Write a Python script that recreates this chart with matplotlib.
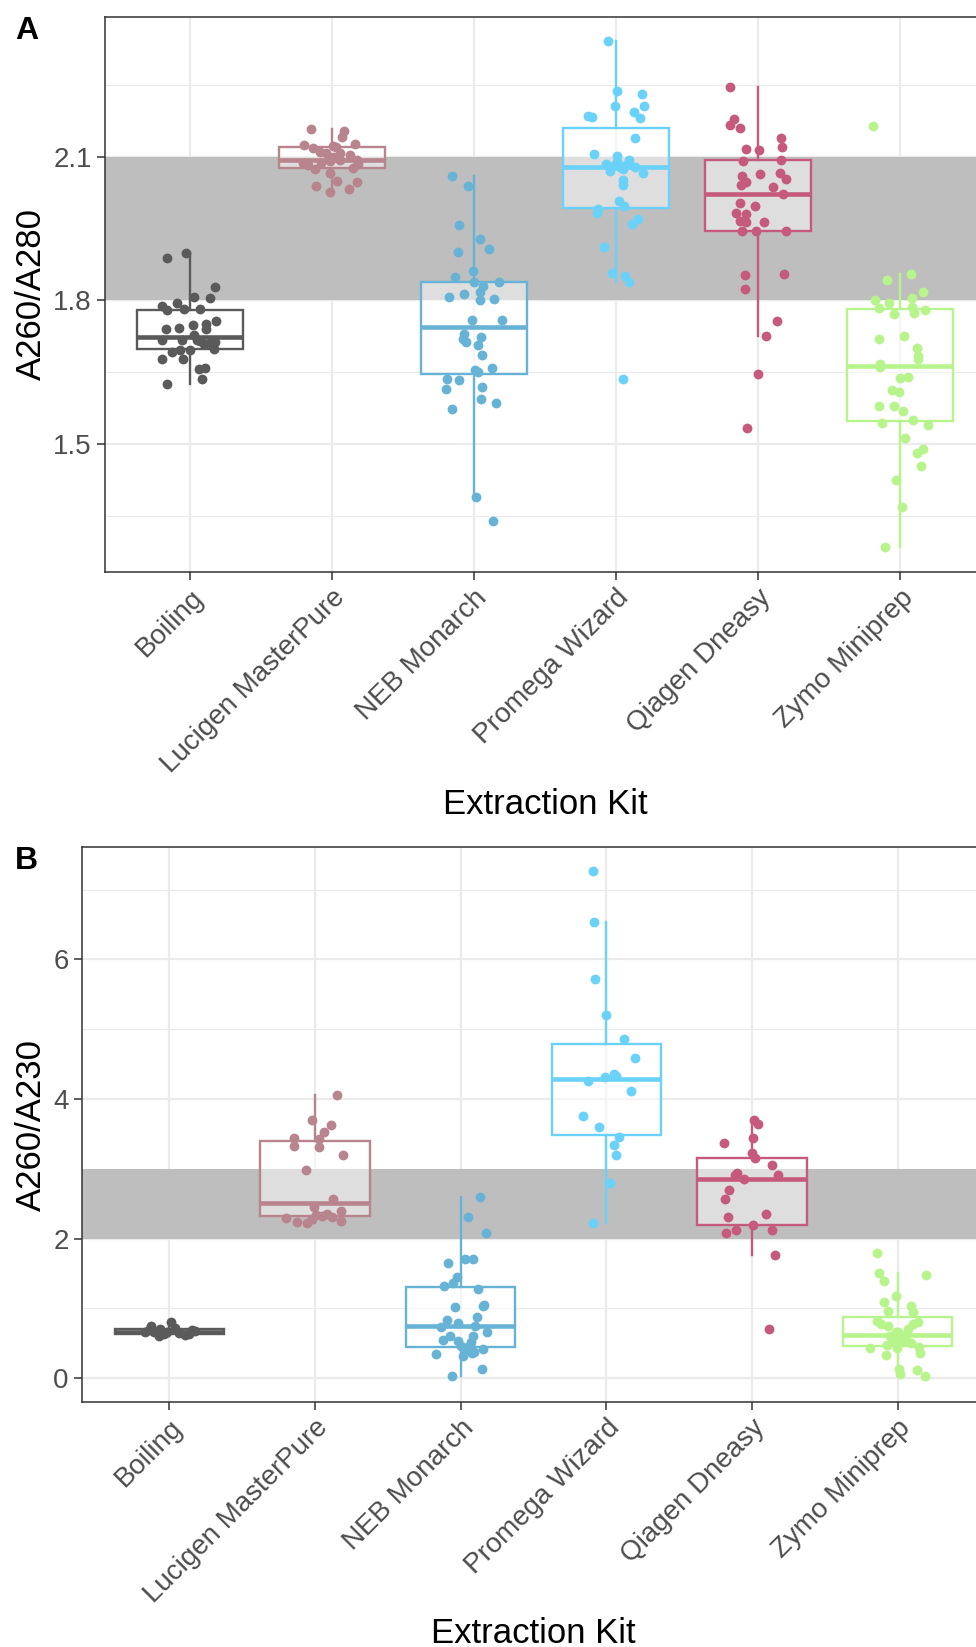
import matplotlib
matplotlib.use("Agg")
import matplotlib.pyplot as plt
import numpy as np

plt.rcParams['font.family'] = ['Liberation Sans', 'DejaVu Sans']

kits = ["Boiling", "Lucigen MasterPure", "NEB Monarch", "Promega Wizard", "Qiagen Dneasy", "Zymo Miniprep"]
kit_colors = ["#5a5a5a", "#b8848d", "#67b3d5", "#6ad2f8", "#c65a7c", "#b8f48c"]

# ---------------- Panel A: A260/A280 ----------------
a280_boiling = [1.888, 1.899, 1.827, 1.806, 1.808, 1.794, 1.789, 1.779, 1.782, 1.781, 1.740, 1.742, 1.749, 1.751,
                1.740, 1.757, 1.728, 1.717, 1.717, 1.715, 1.710, 1.713, 1.692, 1.697, 1.697, 1.699, 1.678, 1.678,
                1.656, 1.658, 1.636, 1.626, 1.708, 1.718]
a280_boiling_jit = [-0.165, -0.028, 0.176, 0.141, 0.024, -0.094, -0.200, -0.165, -0.040, 0.071, -0.169, -0.080, 0.019,
                    0.113, 0.113, 0.181, 0.024, -0.197, -0.059, 0.071, 0.141, 0.176, -0.129, -0.071, 0.000, 0.165,
                    -0.197, -0.047, 0.059, 0.103, 0.082, -0.160, 0.094, 0.047]
a280_lucigen = [2.158, 2.153, 2.142, 2.126, 2.124, 2.119, 2.122, 2.110, 2.107, 2.107, 2.103, 2.093, 2.083, 2.074,
                2.086, 2.090, 2.093, 2.076, 2.085, 2.065, 2.049, 2.047, 2.038, 2.027, 2.032, 2.086, 2.100, 2.120]
a280_lucigen_jit = [-0.150, 0.085, 0.073, 0.160, -0.195, -0.134, 0.007, -0.087, -0.040, 0.059, 0.125, 0.172, -0.169,
                    -0.122, -0.075, -0.016, 0.054, 0.148, 0.183, -0.012, 0.038, 0.172, -0.115, -0.012, 0.120, -0.205,
                    0.007, 0.030]
a280_neb = [2.060, 2.038, 1.958, 1.929, 1.908, 1.900, 1.862, 1.848, 1.838, 1.831, 1.838, 1.807, 1.813, 1.817, 1.801,
            1.803, 1.760, 1.760, 1.729, 1.724, 1.719, 1.713, 1.706, 1.685, 1.654, 1.651, 1.659, 1.635, 1.633, 1.616,
            1.619, 1.594, 1.585, 1.574, 1.390, 1.340]
a280_neb_jit = [-0.157, -0.040, -0.106, 0.042, 0.108, -0.115, -0.005, -0.134, 0.000, 0.061, 0.179, -0.174, -0.071,
                0.042, 0.042, 0.141, -0.012, 0.195, -0.071, 0.049, -0.080, -0.056, 0.031, 0.054, 0.007, 0.031, 0.125,
                -0.188, -0.103, -0.200, 0.059, 0.049, 0.155, -0.153, 0.012, 0.132]
a280_promega = [2.341, 2.237, 2.231, 2.206, 2.205, 2.194, 2.180, 2.185, 2.183, 2.140, 2.106, 2.101, 2.093, 2.085,
                2.081, 2.079, 2.074, 2.079, 2.065, 2.051, 2.041, 2.008, 1.996, 1.991, 1.982, 1.970, 1.960, 1.911,
                1.857, 1.851, 1.838, 1.635, 2.088, 2.070, 2.083]
a280_promega_jit = [-0.054, 0.009, 0.186, -0.007, 0.195, 0.125, 0.169, -0.200, -0.172, 0.136, -0.155, 0.005, 0.092,
                    -0.071, -0.019, 0.028, 0.052, 0.136, 0.188, 0.052, 0.047, 0.024, 0.056, -0.125, -0.134, 0.157,
                    0.113, -0.082, -0.031, 0.063, 0.089, 0.052, 0.010, -0.040, 0.070]
a280_qiagen = [2.246, 2.178, 2.167, 2.160, 2.138, 2.121, 2.117, 2.113, 2.092, 2.093, 2.060, 2.064, 2.065, 2.053,
               2.048, 2.041, 2.036, 2.022, 2.004, 1.998, 1.982, 1.981, 1.965, 1.963, 1.963, 1.945, 1.944, 1.944,
               1.852, 1.856, 1.824, 1.756, 1.725, 1.647, 1.533]
a280_qiagen_jit = [-0.200, -0.169, -0.200, -0.127, 0.160, 0.167, -0.082, 0.007, -0.106, 0.165, -0.110, 0.016, 0.153,
                   0.195, -0.082, -0.118, 0.106, 0.176, -0.129, -0.021, -0.157, -0.082, -0.129, -0.087, 0.042, -0.113,
                   -0.012, 0.195, -0.094, 0.181, -0.089, 0.136, 0.059, -0.002, -0.075]
a280_zymo = [2.164, 1.843, 1.855, 1.818, 1.801, 1.794, 1.806, 1.784, 1.771, 1.786, 1.773, 1.780, 1.719, 1.726, 1.701,
             1.684, 1.677, 1.667, 1.660, 1.637, 1.640, 1.613, 1.609, 1.580, 1.580, 1.569, 1.544, 1.550, 1.540, 1.513,
             1.481, 1.489, 1.455, 1.425, 1.369, 1.286]
a280_zymo_jit = [-0.188, -0.087, 0.080, 0.160, -0.174, -0.078, 0.087, -0.150, -0.042, 0.089, 0.103, 0.179, -0.146,
                 0.031, 0.122, 0.125, 0.129, -0.141, -0.141, 0.002, 0.059, -0.054, -0.007, -0.146, -0.038, 0.024,
                 -0.127, 0.096, 0.200, 0.038, 0.118, 0.160, 0.146, -0.028, 0.016, -0.103]

# ---------------- Panel B: A260/A230 ----------------
a230_boiling = [0.754, 0.811, 0.706, 0.654, 0.597, 0.668, 0.644, 0.620, 0.692, 0.682, 0.635, 0.668, 0.635, 0.716, 0.692]
a230_boiling_jit = [-0.124, 0.014, -0.062, -0.165, -0.073, -0.016, 0.064, 0.110, 0.156, 0.179, 0.133, -0.108, -0.039,
                    0.041, -0.142]
a230_lucigen = [4.056, 3.696, 3.622, 3.524, 3.425, 3.435, 3.326, 3.317, 3.203, 2.976, 2.563, 2.449, 2.396, 2.348,
                2.315, 2.339, 2.301, 2.243, 2.220, 2.258, 2.329, 2.277]
a230_lucigen_jit = [0.151, -0.023, 0.110, 0.060, 0.027, -0.142, -0.142, 0.027, 0.190, -0.060, 0.126, -0.005, 0.176,
                    0.080, 0.114, 0.005, -0.197, -0.126, -0.055, 0.176, 0.046, -0.023]
a230_neb = [2.600, 2.315, 2.076, 1.656, 1.709, 1.709, 1.456, 1.361, 1.323, 1.280, 1.016, 1.050, 1.030, 0.835, 0.883,
            0.797, 0.730, 0.754, 0.668, 0.606, 0.549, 0.539, 0.511, 0.597, 0.463, 0.415, 0.358, 0.320, 0.415, 0.344,
            0.134, 0.024, 0.440, 0.380]
a230_neb_jit = [0.133, 0.048, 0.174, -0.085, 0.030, 0.087, -0.027, -0.050, -0.114, 0.117, -0.039, 0.160, 0.151,
                -0.096, 0.114, -0.016, -0.135, 0.098, 0.179, -0.073, -0.119, -0.016, 0.071, 0.087, 0.002, 0.030,
                0.076, 0.018, 0.156, -0.169, 0.149, -0.057, 0.050, 0.090]
a230_promega = [7.261, 6.532, 5.718, 5.200, 4.860, 4.589, 4.253, 4.313, 4.362, 4.323, 4.115, 3.750, 3.603, 3.450,
                3.341, 3.203, 2.799, 2.227]
a230_promega_jit = [-0.089, -0.085, -0.076, 0.000, 0.121, 0.197, -0.128, -0.009, 0.050, 0.069, 0.172, -0.158, -0.053,
                    0.087, 0.050, 0.066, 0.025, -0.089]
a230_qiagen = [3.706, 3.647, 3.435, 3.376, 3.228, 3.055, 2.947, 2.907, 2.907, 2.848, 2.695, 2.562, 2.316, 2.350,
               2.118, 2.079, 2.128, 1.768, 3.150, 0.706, 2.190]
a230_qiagen_jit = [0.011, 0.041, 0.007, -0.190, 0.000, 0.137, -0.103, -0.119, 0.179, -0.057, -0.160, -0.188, -0.167,
                   0.098, -0.108, -0.176, 0.137, 0.156, 0.020, 0.117, 0.010]
a230_zymo = [1.503, 1.393, 1.479, 1.183, 1.088, 1.040, 0.964, 0.945, 0.821, 0.773, 0.754, 0.773, 0.811, 0.654, 0.597,
             0.573, 0.539, 0.525, 0.501, 0.429, 0.429, 0.477, 0.444, 0.358, 0.334, 0.129, 0.062, 0.119, 0.024, 1.790,
             0.550, 0.580, 0.620, 0.660, 0.700]
a230_zymo_jit = [-0.126, -0.092, 0.195, -0.011, -0.092, 0.089, -0.064, 0.103, -0.144, -0.114, -0.064, 0.103, 0.137,
                 -0.011, -0.053, 0.016, 0.062, -0.018, 0.089, -0.007, -0.190, -0.076, 0.149, 0.153, -0.082, 0.011,
                 0.016, 0.135, 0.188, -0.144, 0.030, -0.030, 0.050, 0.000, 0.070]

a280_values = [a280_boiling, a280_lucigen, a280_neb, a280_promega, a280_qiagen, a280_zymo]
a280_jitter = [a280_boiling_jit, a280_lucigen_jit, a280_neb_jit, a280_promega_jit, a280_qiagen_jit, a280_zymo_jit]
a230_values = [a230_boiling, a230_lucigen, a230_neb, a230_promega, a230_qiagen, a230_zymo]
a230_jitter = [a230_boiling_jit, a230_lucigen_jit, a230_neb_jit, a230_promega_jit, a230_qiagen_jit, a230_zymo_jit]

a280_band = (1.8, 2.1)
a230_band = (2.0, 3.0)

W, H = 976, 1647
fig = plt.figure(figsize=(W / 100, H / 100), dpi=100)

def px_axes(left, top, right, bottom):
    return fig.add_axes([left / W, 1 - bottom / H, (right - left) / W, (bottom - top) / H])

axA = px_axes(105, 16.8, 985, 571.5)
axB = px_axes(82, 846.8, 985, 1401.5)

grey_text = "#4d4d4d"
frame = "#333333"

def draw_panel(ax, values, jitter, band, ylim, majors, minors):
    pos = np.arange(1, len(kits) + 1)
    ax.set_xlim(0.4, 6.6)
    ax.set_ylim(*ylim)
    ax.set_axisbelow(True)
    ax.set_yticks(majors)
    ax.set_yticks(minors, minor=True)
    ax.grid(which='major', color='#ebebeb', lw=1.6, zorder=0)
    ax.grid(which='minor', axis='y', color='#ebebeb', lw=0.8, zorder=0)
    ax.axhspan(band[0], band[1], color='#bebebe', lw=0, zorder=1)
    bp = ax.boxplot(values, positions=pos, widths=0.75, whis=1.5, showfliers=False,
                    showcaps=False, patch_artist=True, zorder=2)
    for i, c in enumerate(kit_colors):
        bp['boxes'][i].set(facecolor=(1, 1, 1, 0.5), edgecolor=c, linewidth=1.7, zorder=2)
        bp['medians'][i].set(color=c, linewidth=3.3, solid_capstyle='butt', zorder=2.1)
        for w in bp['whiskers'][2 * i:2 * i + 2]:
            w.set(color=c, linewidth=1.7, zorder=2)
    for i, (v, j) in enumerate(zip(values, jitter)):
        ax.scatter(pos[i] + np.array(j), v, s=50, color=kit_colors[i], lw=0, zorder=3)
    ax.set_xticks(pos)
    ax.set_xticklabels(kits, rotation=45, ha='right', va='top', rotation_mode='anchor')
    ax.tick_params(which='major', length=5.5, width=1.1, color=frame, labelsize=20,
                   labelcolor=grey_text, pad=4)
    ax.tick_params(which='minor', length=0)
    for s in ax.spines.values():
        s.set_color(frame)
        s.set_linewidth(1.1)

draw_panel(axA, a280_values, a280_jitter, a280_band, (1.234, 2.392),
           [1.5, 1.8, 2.1], [1.35, 1.65, 1.95, 2.25])
axA.set_yticklabels(["1.5", "1.8", "2.1"])
draw_panel(axB, a230_values, a230_jitter, a230_band, (-0.335, 7.615),
           [0, 2, 4, 6], [1, 3, 5, 7])
axB.set_yticklabels(["0", "2", "4", "6"])

def ftext(x, y, s, **kw):
    fig.text(x / W, 1 - y / H, s, **kw)

ftext(15, 38.6, "A", fontsize=23, fontweight='bold', ha='left', va='baseline')
ftext(15, 868.6, "B", fontsize=23, fontweight='bold', ha='left', va='baseline')
ftext(31, 294.5, "A260/A280", fontsize=25, rotation=90, ha='center', va='center')
ftext(31, 1125, "A260/A230", fontsize=25, rotation=90, ha='center', va='center')
ftext(545, 814, "Extraction Kit", fontsize=25, ha='center', va='baseline')
ftext(533.5, 1643, "Extraction Kit", fontsize=25, ha='center', va='baseline')

fig.savefig("out.png", dpi=100)
